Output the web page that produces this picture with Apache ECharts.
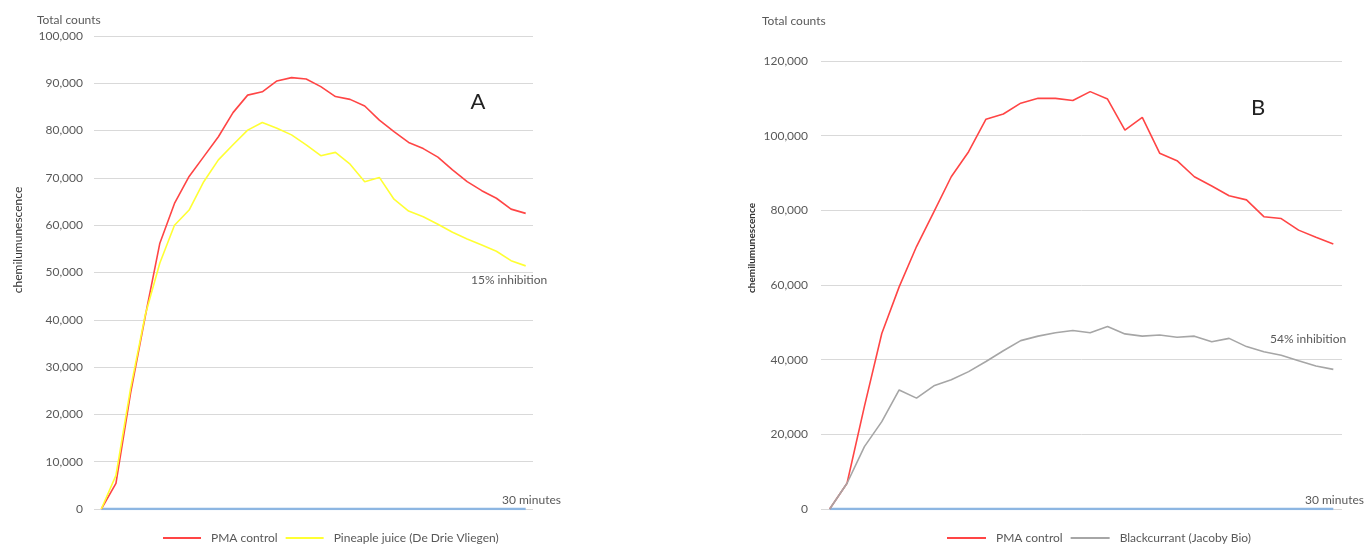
<!DOCTYPE html>
<html>
<head>
<meta charset="utf-8">
<title>chemiluminescence</title>
<script src="https://cdn.jsdelivr.net/npm/echarts@6.0.0/dist/echarts.min.js"></script>
<style>
  html, body { margin: 0; padding: 0; background: #fff; }
  #chart { width: 1372px; height: 545px; }
</style>
</head>
<body>
<div id="chart"></div>
<script>
// minutes (30 readings, x axis is not labelled)
var minutes = [0,1,2,3,4,5,6,7,8,9,10,11,12,13,14,15,16,17,18,19,20,21,22,23,24,25,26,27,28,29];

// panel A
var pmaA = [0, 5400, 24500, 40700, 56200, 64600, 70300, 74500, 78700, 83800, 87500, 88200, 90500, 91200, 90900,
            89300, 87200, 86600, 85200, 82200, 79800, 77500, 76200, 74400, 71700, 69200, 67300, 65700, 63400, 62500];
var pineapple = [0, 7100, 25500, 41000, 52000, 60000, 63200, 69200, 73800, 77000, 80100, 81700, 80500, 79100, 77000,
                 74700, 75400, 72900, 69200, 70100, 65500, 63000, 61800, 60200, 58500, 57100, 55800, 54500, 52500, 51400];

// panel B
var pmaB = [0, 6900, 27500, 47000, 59500, 70300, 79600, 89000, 95700, 104400, 105800, 108700, 110000, 110000, 109400,
            111800, 109800, 101500, 104900, 95300, 93300, 89000, 86500, 83900, 82800, 78300, 77800, 74700, 72800, 71000];
var blackcurrant = [0, 6900, 16700, 23400, 31900, 29700, 33000, 34600, 36800, 39500, 42400, 45100, 46300, 47200, 47800,
                    47200, 48900, 46900, 46300, 46600, 46000, 46300, 44800, 45700, 43500, 42100, 41200, 39700, 38300, 37400];

// blue baseline ("30 minutes")
var baseline = minutes.map(function () { return 0; });

var yTicksA = { max: 100000, interval: 10000 };
var yTicksB = { max: 120000, interval: 20000 };

var font = 'Lato, "Noto Sans", sans-serif';
var grey = '#595959';

var chart = echarts.init(document.getElementById('chart'));

function xAxis(gi) {
  return {
    gridIndex: gi,
    type: 'category',
    boundaryGap: true,
    data: minutes,
    axisLine: { show: false },
    axisTick: { show: false },
    axisLabel: { show: false },
    splitLine: { show: false }
  };
}

function yAxis(gi, ticks, margin) {
  return {
    gridIndex: gi,
    type: 'value',
    min: 0,
    max: ticks.max,
    interval: ticks.interval,
    axisLine: { show: false },
    axisTick: { show: false },
    axisLabel: {
      color: grey, fontSize: 12, fontFamily: font, margin: margin,
      formatter: function (v) { return v.toLocaleString('en-US'); }
    },
    splitLine: { lineStyle: { color: '#d9d9d9', width: 1 } }
  };
}

function line(name, gi, data, color, width, z) {
  return {
    name: name,
    type: 'line',
    xAxisIndex: gi,
    yAxisIndex: gi,
    data: data,
    showSymbol: false,
    symbol: 'none',
    silent: true,
    z: z,
    lineStyle: { color: color, width: width },
    itemStyle: { color: color }
  };
}

function txt(x, y, text, opt) {
  opt = opt || {};
  return {
    type: 'text',
    x: x, y: y,
    rotation: opt.rotation || 0,
    style: {
      text: text,
      fill: opt.color || grey,
      font: (opt.weight || 'normal') + ' ' + (opt.size || 12) + 'px ' + font,
      textAlign: opt.align || 'left',
      textVerticalAlign: 'middle'
    }
  };
}

var legendText = { color: grey, fontSize: 12, fontFamily: font, padding: [0, 0, 0, 5] };

var option = {
  backgroundColor: '#fff',
  animation: false,
  grid: [
    { left: 94, top: 36, width: 439, height: 473, outerBoundsMode: 'none' },
    { left: 821, top: 61, width: 521, height: 448, outerBoundsMode: 'none' }
  ],
  xAxis: [xAxis(0), xAxis(1)],
  yAxis: [yAxis(0, yTicksA, 11), yAxis(1, yTicksB, 13)],
  legend: [
    {
      data: ['PMA control', 'Pineaple juice (De Drie Vliegen)'],
      left: 158, top: 527, icon: 'rect', itemWidth: 38, itemHeight: 2, itemGap: 8,
      textStyle: legendText, selectedMode: false
    },
    {
      data: ['PMA control', 'Blackcurrant (Jacoby Bio)'],
      left: 942, top: 527, icon: 'rect', itemWidth: 39, itemHeight: 2, itemGap: 8,
      textStyle: legendText, selectedMode: false
    }
  ],
  series: [
    line('30 minutes', 0, baseline, '#8db6e2', 2.5, 2),
    line('PMA control', 0, pmaA, '#ff4545', 1.6, 3),
    line('Pineaple juice (De Drie Vliegen)', 0, pineapple, '#ffff33', 1.6, 4),
    line('30 minutes', 1, baseline, '#8db6e2', 2.5, 2),
    line('PMA control', 1, pmaB, '#ff4545', 1.6, 3),
    line('Blackcurrant (Jacoby Bio)', 1, blackcurrant, '#a6a6a6', 1.6, 4)
  ],
  graphic: [
    txt(37, 20, 'Total counts'),
    txt(762, 21, 'Total counts'),
    txt(478, 102, 'A', { size: 22, align: 'center', color: '#222' }),
    txt(1258, 108, 'B', { size: 22, align: 'center', color: '#222' }),
    txt(471, 280, '15% inhibition'),
    txt(1270, 339, '54% inhibition'),
    txt(502, 500, '30 minutes'),
    txt(1305, 500, '30 minutes'),
    txt(18, 240, 'chemilumunescence', { rotation: Math.PI / 2, align: 'center', size: 12, color: '#333' }),
    txt(752, 248, 'chemilumunescence', { rotation: Math.PI / 2, align: 'center', size: 10, weight: 'bold', color: '#333' })
  ]
};

chart.setOption(option);
</script>
</body>
</html>
